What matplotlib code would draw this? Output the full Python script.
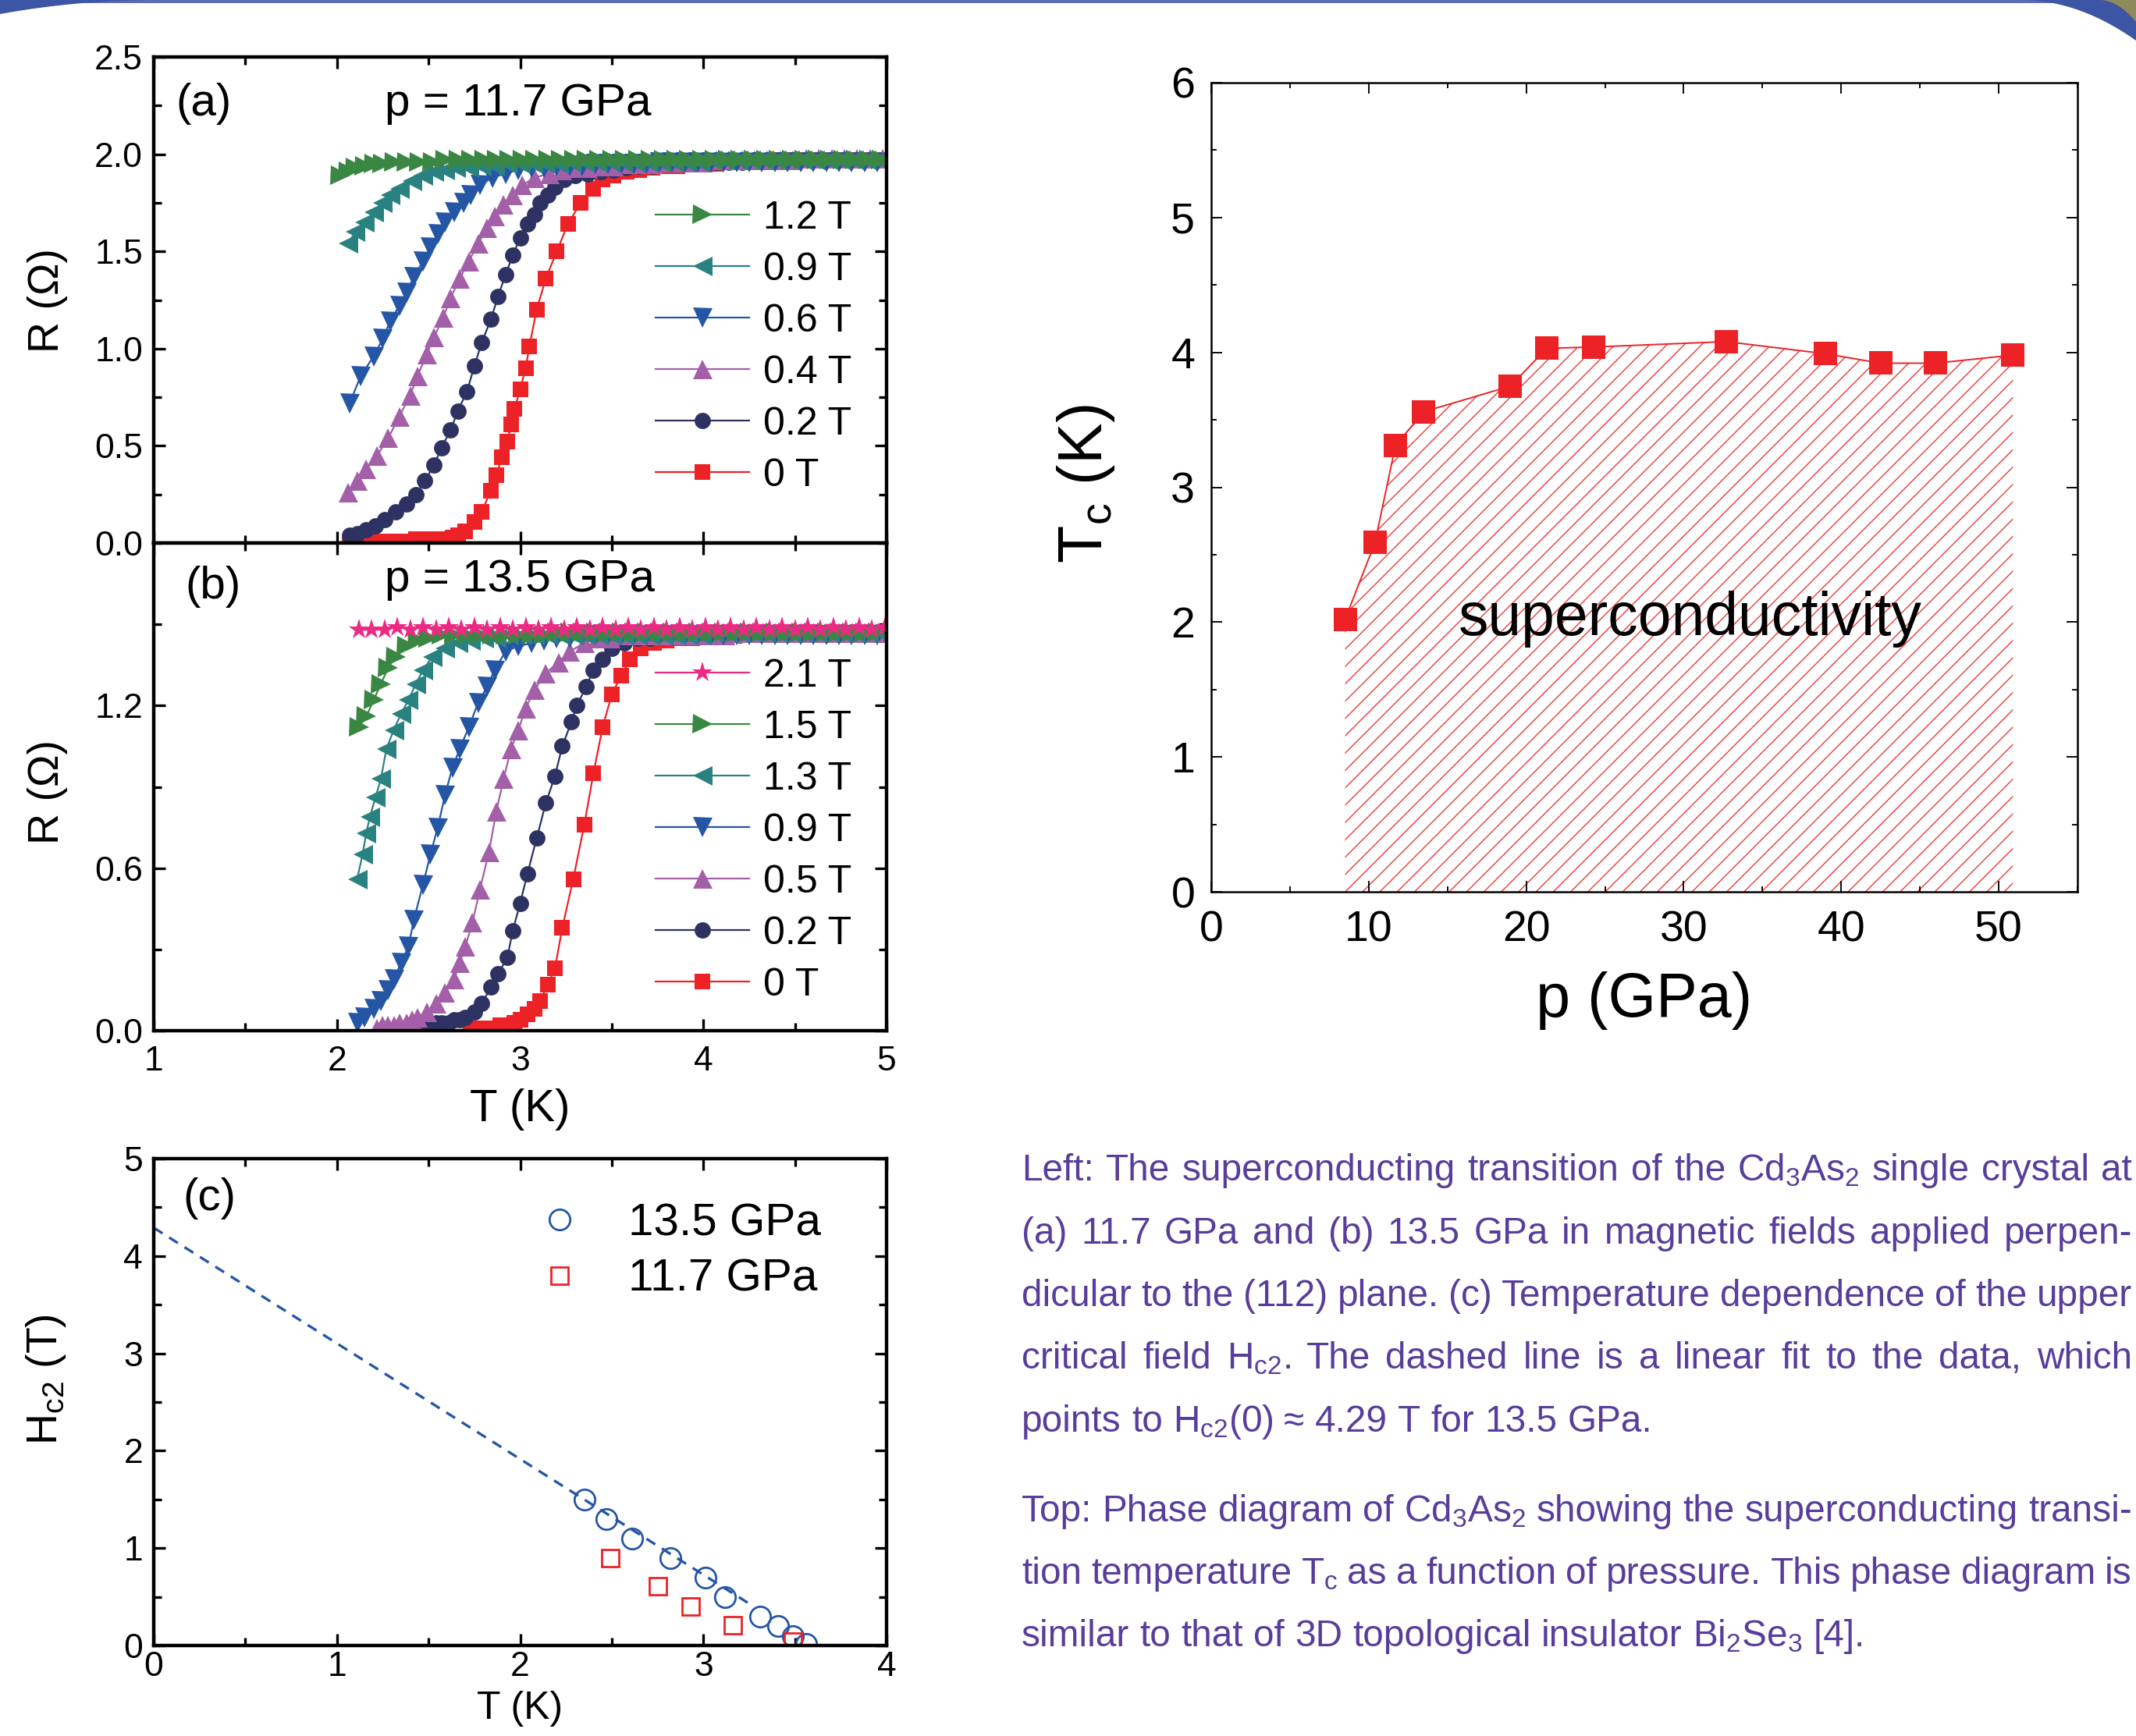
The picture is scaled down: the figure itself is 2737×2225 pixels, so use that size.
import numpy as np
import matplotlib
matplotlib.use('Agg')
import matplotlib.pyplot as plt
from matplotlib.ticker import MultipleLocator, FormatStrFormatter

plt.rcParams['font.family'] = ['Liberation Sans', 'DejaVu Sans']
plt.rcParams['mathtext.fontset'] = 'custom'
plt.rcParams['mathtext.rm'] = 'Liberation Sans'
plt.rcParams['hatch.linewidth'] = 0.5
plt.rcParams['hatch.color'] = '#ee3a3a'

# ---- panel (a): p = 11.7 GPa, (T [K], R [Ohm])
a_0T = [(2.07,0.00),(2.11,0.00),(2.15,0.01),(2.19,0.01),(2.23,0.01),(2.27,0.01),(2.31,0.01),(2.35,0.01),(2.39,0.01),(2.43,0.02),(2.47,0.02),(2.51,0.02),(2.55,0.02),(2.59,0.02),(2.63,0.03),(2.66,0.04),(2.70,0.06),(2.75,0.11),(2.79,0.16),(2.84,0.27),(2.87,0.35),(2.90,0.44),(2.93,0.52),(2.95,0.61),(2.97,0.69),(3.00,0.79),(3.03,0.90),(3.05,1.01),(3.09,1.20),(3.14,1.36),(3.20,1.50),(3.26,1.64),(3.33,1.75),(3.40,1.82),(3.45,1.87),(3.51,1.89),(3.58,1.91),(3.65,1.92),(3.72,1.93),(3.79,1.94),(3.86,1.94),(3.93,1.95),(4.00,1.95),(4.07,1.95),(4.14,1.96),(4.21,1.96),(4.28,1.96),(4.35,1.96),(4.42,1.97),(4.49,1.97),(4.56,1.97),(4.63,1.97),(4.70,1.97),(4.77,1.97),(4.84,1.97),(4.91,1.97),(4.98,1.97)]
a_02T = [(2.07,0.04),(2.11,0.05),(2.16,0.07),(2.21,0.09),(2.26,0.12),(2.32,0.16),(2.38,0.20),(2.43,0.25),(2.48,0.32),(2.53,0.40),(2.57,0.49),(2.62,0.58),(2.66,0.68),(2.71,0.78),(2.75,0.91),(2.79,1.03),(2.84,1.15),(2.88,1.27),(2.92,1.38),(2.96,1.48),(3.00,1.57),(3.04,1.64),(3.08,1.69),(3.11,1.75),(3.15,1.79),(3.19,1.83),(3.24,1.87),(3.30,1.89),(3.37,1.90),(3.44,1.91),(3.51,1.92),(3.58,1.93),(3.65,1.94),(3.72,1.94),(3.79,1.95),(3.86,1.95),(3.93,1.95),(4.00,1.96),(4.07,1.96),(4.14,1.96),(4.21,1.96),(4.28,1.97),(4.35,1.97),(4.42,1.97),(4.49,1.97),(4.56,1.97),(4.63,1.97),(4.70,1.97),(4.77,1.97),(4.84,1.97),(4.91,1.97),(4.98,1.97)]
a_04T = [(2.06,0.26),(2.11,0.32),(2.16,0.38),(2.22,0.45),(2.28,0.54),(2.34,0.65),(2.40,0.76),(2.44,0.86),(2.49,0.97),(2.53,1.06),(2.58,1.16),(2.62,1.26),(2.67,1.36),(2.72,1.45),(2.77,1.54),(2.82,1.62),(2.86,1.68),(2.91,1.74),(2.96,1.79),(3.01,1.84),(3.08,1.88),(3.16,1.90),(3.23,1.92),(3.30,1.93),(3.37,1.93),(3.44,1.94),(3.51,1.94),(3.58,1.95),(3.65,1.95),(3.72,1.95),(3.79,1.96),(3.86,1.96),(3.93,1.96),(4.00,1.96),(4.07,1.97),(4.14,1.97),(4.21,1.97),(4.28,1.97),(4.35,1.97),(4.42,1.97),(4.49,1.97),(4.56,1.98),(4.63,1.98),(4.70,1.98),(4.77,1.98),(4.84,1.98),(4.91,1.98),(4.98,1.98)]
a_06T = [(2.07,0.72),(2.13,0.86),(2.20,0.96),(2.25,1.05),(2.29,1.14),(2.34,1.22),(2.38,1.29),(2.42,1.37),(2.47,1.45),(2.51,1.52),(2.55,1.59),(2.59,1.65),(2.64,1.70),(2.69,1.75),(2.73,1.79),(2.78,1.84),(2.85,1.88),(2.92,1.90),(2.99,1.92),(3.06,1.93),(3.13,1.93),(3.20,1.94),(3.27,1.94),(3.34,1.94),(3.41,1.95),(3.48,1.95),(3.55,1.95),(3.62,1.95),(3.69,1.95),(3.76,1.96),(3.83,1.96),(3.90,1.96),(3.97,1.96),(4.04,1.96),(4.11,1.96),(4.18,1.96),(4.25,1.96),(4.32,1.96),(4.39,1.96),(4.46,1.96),(4.53,1.96),(4.60,1.96),(4.67,1.96),(4.74,1.96),(4.81,1.96),(4.88,1.96),(4.95,1.96)]
a_09T = [(2.06,1.54),(2.10,1.60),(2.15,1.65),(2.20,1.70),(2.25,1.75),(2.29,1.79),(2.34,1.82),(2.41,1.86),(2.47,1.89),(2.53,1.91),(2.59,1.92),(2.65,1.93),(2.72,1.93),(2.79,1.94),(2.86,1.94),(2.93,1.95),(3.00,1.95),(3.07,1.95),(3.14,1.95),(3.21,1.95),(3.28,1.96),(3.35,1.96),(3.42,1.96),(3.49,1.96),(3.56,1.96),(3.63,1.96),(3.70,1.96),(3.77,1.96),(3.84,1.96),(3.91,1.96),(3.98,1.96),(4.05,1.97),(4.12,1.97),(4.19,1.97),(4.26,1.97),(4.33,1.97),(4.40,1.97),(4.47,1.97),(4.54,1.97),(4.61,1.97),(4.68,1.97),(4.75,1.97),(4.82,1.97),(4.89,1.97),(4.96,1.97)]
a_12T = [(2.02,1.89),(2.06,1.91),(2.10,1.93),(2.15,1.94),(2.20,1.95),(2.25,1.95),(2.31,1.96),(2.38,1.96),(2.45,1.96),(2.52,1.96),(2.59,1.97),(2.66,1.97),(2.73,1.97),(2.80,1.97),(2.87,1.97),(2.94,1.97),(3.01,1.97),(3.08,1.97),(3.15,1.97),(3.22,1.97),(3.29,1.97),(3.36,1.97),(3.43,1.97),(3.50,1.97),(3.57,1.97),(3.64,1.97),(3.71,1.97),(3.78,1.97),(3.85,1.97),(3.92,1.97),(3.99,1.97),(4.06,1.97),(4.13,1.97),(4.20,1.97),(4.27,1.97),(4.34,1.97),(4.41,1.97),(4.48,1.97),(4.55,1.97),(4.62,1.97),(4.69,1.97),(4.76,1.97),(4.83,1.97),(4.90,1.97),(4.97,1.97)]

# ---- panel (b): p = 13.5 GPa
b_0T = [(2.73,0.01),(2.77,0.01),(2.81,0.01),(2.85,0.01),(2.89,0.02),(2.93,0.02),(2.97,0.03),(3.00,0.04),(3.04,0.06),(3.08,0.08),(3.11,0.11),(3.15,0.17),(3.19,0.23),(3.23,0.38),(3.29,0.56),(3.35,0.76),(3.40,0.95),(3.45,1.12),(3.50,1.24),(3.55,1.31),(3.60,1.37),(3.66,1.41),(3.73,1.43),(3.80,1.44),(3.87,1.45),(3.94,1.45),(4.01,1.46),(4.08,1.46),(4.15,1.46),(4.22,1.46),(4.29,1.46),(4.36,1.46),(4.43,1.47),(4.50,1.47),(4.57,1.47),(4.64,1.47),(4.71,1.47),(4.78,1.47),(4.85,1.47),(4.92,1.47),(4.99,1.47)]
b_02T = [(2.44,0.02),(2.48,0.02),(2.51,0.02),(2.54,0.03),(2.57,0.03),(2.61,0.03),(2.64,0.04),(2.67,0.04),(2.70,0.05),(2.75,0.07),(2.79,0.10),(2.84,0.16),(2.88,0.21),(2.93,0.27),(2.96,0.37),(3.00,0.47),(3.04,0.58),(3.09,0.71),(3.14,0.84),(3.19,0.94),(3.23,1.05),(3.28,1.14),(3.31,1.20),(3.36,1.27),(3.40,1.33),(3.45,1.37),(3.50,1.41),(3.57,1.43),(3.64,1.45),(3.71,1.45),(3.78,1.46),(3.85,1.46),(3.92,1.46),(3.99,1.46),(4.06,1.46),(4.13,1.46),(4.20,1.46),(4.27,1.47),(4.34,1.47),(4.41,1.47),(4.48,1.47),(4.55,1.47),(4.62,1.47),(4.69,1.47),(4.76,1.47),(4.83,1.47),(4.90,1.47),(4.97,1.47)]
b_05T = [(2.22,0.01),(2.25,0.02),(2.28,0.02),(2.31,0.02),(2.34,0.03),(2.38,0.03),(2.41,0.04),(2.44,0.05),(2.49,0.07),(2.54,0.10),(2.59,0.14),(2.64,0.19),(2.67,0.25),(2.70,0.31),(2.74,0.40),(2.78,0.52),(2.83,0.66),(2.87,0.81),(2.91,0.93),(2.95,1.04),(2.99,1.11),(3.03,1.19),(3.08,1.26),(3.14,1.32),(3.21,1.36),(3.27,1.40),(3.35,1.43),(3.42,1.45),(3.49,1.45),(3.56,1.46),(3.63,1.46),(3.70,1.46),(3.77,1.46),(3.84,1.46),(3.91,1.46),(3.98,1.46),(4.05,1.46),(4.12,1.46),(4.19,1.47),(4.26,1.47),(4.33,1.47),(4.40,1.47),(4.47,1.47),(4.54,1.47),(4.61,1.47),(4.68,1.47),(4.75,1.47),(4.82,1.47),(4.89,1.47),(4.96,1.47)]
b_09T = [(2.11,0.03),(2.15,0.05),(2.20,0.08),(2.24,0.11),(2.28,0.15),(2.31,0.19),(2.35,0.25),(2.39,0.31),(2.42,0.41),(2.47,0.54),(2.51,0.65),(2.55,0.75),(2.59,0.87),(2.63,0.97),(2.67,1.04),(2.72,1.12),(2.77,1.21),(2.82,1.27),(2.86,1.33),(2.92,1.40),(2.99,1.42),(3.06,1.43),(3.13,1.44),(3.20,1.45),(3.27,1.45),(3.34,1.46),(3.41,1.46),(3.48,1.46),(3.55,1.46),(3.62,1.46),(3.69,1.46),(3.76,1.46),(3.83,1.46),(3.90,1.46),(3.97,1.46),(4.04,1.46),(4.11,1.46),(4.18,1.46),(4.25,1.46),(4.32,1.46),(4.39,1.46),(4.46,1.46),(4.53,1.46),(4.60,1.46),(4.67,1.46),(4.74,1.46),(4.81,1.46),(4.88,1.46),(4.95,1.46)]
b_13T = [(2.11,0.56),(2.14,0.65),(2.16,0.73),(2.18,0.79),(2.21,0.86),(2.24,0.93),(2.27,1.04),(2.31,1.11),(2.35,1.17),(2.39,1.22),(2.43,1.28),(2.47,1.33),(2.52,1.38),(2.59,1.41),(2.66,1.43),(2.73,1.44),(2.80,1.45),(2.87,1.45),(2.94,1.46),(3.01,1.46),(3.08,1.46),(3.15,1.46),(3.22,1.46),(3.29,1.46),(3.36,1.46),(3.43,1.46),(3.50,1.46),(3.57,1.46),(3.64,1.46),(3.71,1.46),(3.78,1.46),(3.85,1.46),(3.92,1.46),(3.99,1.46),(4.06,1.47),(4.13,1.47),(4.20,1.47),(4.27,1.47),(4.34,1.47),(4.41,1.47),(4.48,1.47),(4.55,1.47),(4.62,1.47),(4.69,1.47),(4.76,1.47),(4.83,1.47),(4.90,1.47),(4.97,1.47)]
b_15T = [(2.12,1.12),(2.16,1.16),(2.20,1.22),(2.24,1.28),(2.28,1.34),(2.32,1.38),(2.38,1.42),(2.44,1.44),(2.50,1.45),(2.57,1.46),(2.64,1.46),(2.71,1.46),(2.78,1.46),(2.85,1.46),(2.92,1.46),(2.99,1.46),(3.06,1.46),(3.13,1.46),(3.20,1.47),(3.27,1.47),(3.34,1.47),(3.41,1.47),(3.48,1.47),(3.55,1.47),(3.62,1.47),(3.69,1.47),(3.76,1.47),(3.83,1.47),(3.90,1.47),(3.97,1.47),(4.04,1.47),(4.11,1.47),(4.18,1.47),(4.25,1.47),(4.32,1.47),(4.39,1.47),(4.46,1.47),(4.53,1.47),(4.60,1.47),(4.67,1.47),(4.74,1.47),(4.81,1.47),(4.88,1.47),(4.95,1.47)]
b_21T = [(2.12,1.48),(2.19,1.48),(2.26,1.48),(2.33,1.49),(2.40,1.48),(2.47,1.49),(2.54,1.48),(2.61,1.49),(2.68,1.48),(2.75,1.49),(2.82,1.48),(2.89,1.49),(2.96,1.48),(3.03,1.49),(3.10,1.48),(3.17,1.49),(3.24,1.48),(3.31,1.49),(3.38,1.48),(3.45,1.49),(3.52,1.48),(3.59,1.49),(3.66,1.48),(3.73,1.49),(3.80,1.48),(3.87,1.49),(3.94,1.48),(4.01,1.49),(4.08,1.48),(4.15,1.49),(4.22,1.48),(4.29,1.49),(4.36,1.48),(4.43,1.49),(4.50,1.48),(4.57,1.49),(4.64,1.48),(4.71,1.49),(4.78,1.48),(4.85,1.49),(4.92,1.48),(4.99,1.49)]

# ---- panel (c): upper critical field
c_135_T = [2.35, 2.47, 2.61, 2.82, 3.01, 3.12, 3.31, 3.41, 3.49, 3.56]
c_135_H = [1.50, 1.30, 1.10, 0.90, 0.70, 0.50, 0.30, 0.20, 0.10, 0.02]
c_117_T = [2.49, 2.75, 2.93, 3.16, 3.49]
c_117_H = [0.90, 0.61, 0.40, 0.21, 0.04]
fit_T = [0.0, 3.25]
fit_H = [4.29, 0.43]

# ---- phase diagram
p_GPa = [8.5, 10.4, 11.7, 13.5, 19.0, 21.3, 24.3, 32.7, 39.0, 42.5, 46.0, 50.9]
Tc_K = [2.02, 2.59, 3.31, 3.56, 3.75, 4.03, 4.04, 4.08, 3.99, 3.92, 3.92, 3.98]

RED = '#ec2227'
NAVY = '#2e3262'
VIOLET = '#a45fa9'
BLUE = '#2556a6'
TEAL = '#2a8280'
GREEN = '#3a8744'
PINK = '#ec2a84'
CAPTION = '#583e9c'

W, H = 2737, 2225
fig = plt.figure(figsize=(W / 200, H / 200), dpi=200)


def box(x0, y0, x1, y1):
    return [x0 / W, 1 - y1 / H, (x1 - x0) / W, (y1 - y0) / H]


# overlay in pixel units for frame decoration and caption
ov = fig.add_axes([0, 0, 1, 1])
ov.set_xlim(0, W)
ov.set_ylim(H, 0)
ov.axis('off')

ax_a = fig.add_axes(box(197, 73, 1136, 696))
ax_b = fig.add_axes(box(197, 696, 1136, 1321))
ax_c = fig.add_axes(box(197, 1485, 1136, 2109))
ax_p = fig.add_axes(box(1552, 106, 2662, 1143))


def style(ax, size, lw, major, minor, pad):
    ax.tick_params(which='both', direction='in', top=True, right=True,
                   labelsize=size, width=lw * 0.75, pad=pad)
    ax.tick_params(which='major', length=major)
    ax.tick_params(which='minor', length=minor)
    for s in ax.spines.values():
        s.set_linewidth(lw)


def curve(ax, pts, color, marker, ms, label):
    t, r = zip(*pts)
    ln, = ax.plot(t, r, color=color, marker=marker, ms=ms, mec=color,
                  mew=0, lw=0.8, label=label)
    return ln


# panel (a)
ha = []
ha.append(curve(ax_a, a_0T, RED, 's', 7, '0 T'))
ha.append(curve(ax_a, a_02T, NAVY, 'o', 7.5, '0.2 T'))
ha.append(curve(ax_a, a_04T, VIOLET, '^', 9, '0.4 T'))
ha.append(curve(ax_a, a_06T, BLUE, 'v', 9, '0.6 T'))
ha.append(curve(ax_a, a_09T, TEAL, '<', 9, '0.9 T'))
ha.append(curve(ax_a, a_12T, GREEN, '>', 9, '1.2 T'))
ax_a.set_xlim(1, 5)
ax_a.set_ylim(0, 2.5)
ax_a.xaxis.set_major_locator(MultipleLocator(1))
ax_a.xaxis.set_minor_locator(MultipleLocator(0.5))
ax_a.yaxis.set_major_locator(MultipleLocator(0.5))
ax_a.yaxis.set_minor_locator(MultipleLocator(0.25))
ax_a.yaxis.set_major_formatter(FormatStrFormatter('%.1f'))
ax_a.tick_params(labelbottom=False)
style(ax_a, 16, 1.6, 5.5, 3.5, 5)
ax_a.set_ylabel('R (Ω)', fontsize=20)
ax_a.yaxis.set_label_coords(-0.117, 0.5)
ax_a.text(1.12, 2.26, '(a)', fontsize=21, va='center')
ax_a.text(2.26, 2.26, 'p = 11.7 GPa', fontsize=21, va='center')
ax_a.legend(ha[::-1], [h.get_label() for h in ha[::-1]], loc='center left',
            bbox_to_anchor=(0.685, 0.403), frameon=False, fontsize=18,
            handlelength=2.4, handletextpad=0.35, labelspacing=0.4,
            borderpad=0, borderaxespad=0, numpoints=1)

# panel (b)
hb = []
hb.append(curve(ax_b, b_0T, RED, 's', 7, '0 T'))
hb.append(curve(ax_b, b_02T, NAVY, 'o', 7.5, '0.2 T'))
hb.append(curve(ax_b, b_05T, VIOLET, '^', 9, '0.5 T'))
hb.append(curve(ax_b, b_09T, BLUE, 'v', 9, '0.9 T'))
hb.append(curve(ax_b, b_13T, TEAL, '<', 9, '1.3 T'))
hb.append(curve(ax_b, b_15T, GREEN, '>', 9, '1.5 T'))
hb.append(curve(ax_b, b_21T, PINK, '*', 10, '2.1 T'))
ax_b.set_xlim(1, 5)
ax_b.set_ylim(0, 1.8)
ax_b.xaxis.set_major_locator(MultipleLocator(1))
ax_b.xaxis.set_minor_locator(MultipleLocator(0.5))
ax_b.set_yticks([0, 0.6, 1.2])
ax_b.yaxis.set_minor_locator(MultipleLocator(0.3))
ax_b.yaxis.set_major_formatter(FormatStrFormatter('%.1f'))
style(ax_b, 16, 1.6, 5.5, 3.5, 5)
ax_b.tick_params(axis='x', pad=7)
ax_b.set_ylabel('R (Ω)', fontsize=20)
ax_b.yaxis.set_label_coords(-0.117, 0.49)
ax_b.set_xlabel('T (K)', fontsize=21, va='top')
ax_b.xaxis.set_label_coords(0.5, -0.118)
ax_b.text(1.17, 1.64, '(b)', fontsize=21, va='center')
ax_b.text(2.26, 1.665, 'p = 13.5 GPa', fontsize=21, va='center')
ax_b.legend(hb[::-1], [h.get_label() for h in hb[::-1]], loc='center left',
            bbox_to_anchor=(0.685, 0.41), frameon=False, fontsize=18,
            handlelength=2.4, handletextpad=0.35, labelspacing=0.4,
            borderpad=0, borderaxespad=0, numpoints=1)

# panel (c)
ax_c.plot(fit_T, fit_H, color=BLUE, lw=1.2, dashes=(4, 3))
ax_c.plot(c_135_T, c_135_H, ls='none', marker='o', ms=9.5, mfc='none',
          mec=BLUE, mew=1.0, label='13.5 GPa')
ax_c.plot(c_117_T, c_117_H, ls='none', marker='s', ms=8, mfc='none',
          mec=RED, mew=1.0, label='11.7 GPa')
ax_c.set_xlim(0, 4)
ax_c.set_ylim(0, 5)
ax_c.xaxis.set_major_locator(MultipleLocator(1))
ax_c.xaxis.set_minor_locator(MultipleLocator(0.5))
ax_c.yaxis.set_major_locator(MultipleLocator(1))
ax_c.yaxis.set_minor_locator(MultipleLocator(0.5))
style(ax_c, 16, 1.6, 5.5, 3.5, 5)
ax_c.tick_params(axis='x', pad=2.5)
ax_c.set_ylabel(r'H$_{\mathregular{c2}}$ (T)', fontsize=20)
ax_c.yaxis.set_label_coords(-0.117, 0.546)
ax_c.set_xlabel('T (K)', fontsize=18, va='top')
ax_c.xaxis.set_label_coords(0.5, -0.093)
ax_c.text(0.16, 4.59, '(c)', fontsize=21, va='center')
ax_c.legend(loc='center left', bbox_to_anchor=(0.523, 0.809), frameon=False,
            fontsize=21, handlelength=1.0, handletextpad=1.0,
            labelspacing=0.3, borderpad=0, borderaxespad=0, numpoints=1)

# phase diagram
ax_p.fill_between(p_GPa, Tc_K, 0, facecolor='none', edgecolor='#ee3a3a',
                  hatch='///', linewidth=0)
ax_p.plot(p_GPa, Tc_K, color=RED, lw=0.7, marker='s', ms=10.5, mew=0)
ax_p.set_xlim(0, 55)
ax_p.set_ylim(0, 6)
ax_p.xaxis.set_major_locator(MultipleLocator(10))
ax_p.xaxis.set_minor_locator(MultipleLocator(5))
ax_p.yaxis.set_major_locator(MultipleLocator(1))
ax_p.yaxis.set_minor_locator(MultipleLocator(0.5))
style(ax_p, 20, 0.9, 5, 2.5, 7.5)
ax_p.tick_params(axis='x', pad=8.5)
ax_p.set_xlabel('p (GPa)', fontsize=28.5, va='top')
ax_p.xaxis.set_label_coords(0.5, -0.098)
ax_p.set_ylabel(r'T$_{\mathregular{c}}$ (K)', fontsize=28.5)
ax_p.yaxis.set_label_coords(-0.109, 0.504)
ax_p.text(30.4, 2.02, 'superconductivity', fontsize=27.7, ha='center', va='center')

# frame decoration (top border and corners)
ov.fill([0, W, W, 0], [0, 0, 4, 4], color='#5b6db4', lw=0)
xs = np.linspace(0, 200, 40)
ov.fill(np.r_[0, xs], np.r_[0, 18 * (1 - xs / 200) ** 2], color='#3d55a5', lw=0)
xs = np.linspace(2590, W, 40)
ov.fill(np.r_[W, xs], np.r_[0, 52 * ((xs - 2590) / (W - 2590)) ** 2], color='#3d55a5', lw=0)
xs = np.linspace(2690, W, 30)
ov.fill(np.r_[W, xs], np.r_[0, 28 * ((xs - 2690) / (W - 2690)) ** 2], color='#8f8a5a', lw=0)

# caption, justified by hand
cap_lines = [
    (r'Left: The superconducting transition of the Cd$_{\mathregular{3}}$As$_{\mathregular{2}}$ single crystal at', True),
    ('(a) 11.7 GPa and (b) 13.5 GPa in magnetic fields applied perpen-', True),
    ('dicular to the (112) plane. (c) Temperature dependence of the upper', True),
    (r'critical field H$_{\mathregular{c2}}$. The dashed line is a linear fit to the data, which', True),
    (r'points to H$_{\mathregular{c2}}$(0) ≈ 4.29 T for 13.5 GPa.', False),
    (r'Top: Phase diagram of Cd$_{\mathregular{3}}$As$_{\mathregular{2}}$ showing the superconducting transi-', True),
    (r'tion temperature T$_{\mathregular{c}}$ as a function of pressure. This phase diagram is', True),
    (r'similar to that of 3D topological insulator Bi$_{\mathregular{2}}$Se$_{\mathregular{3}}$ [4].', False),
]
cap_base = [1513, 1594, 1674, 1754, 1835, 1950, 2030, 2110]
x_left, x_right = 1309, 2732
rend = fig.canvas.get_renderer()
kw = dict(fontsize=17.2, color=CAPTION, va='baseline', ha='left')
t1 = ov.text(0, 0, 'n n', **kw)
t2 = ov.text(0, 0, 'nn', **kw)
space = t1.get_window_extent(rend).width - t2.get_window_extent(rend).width
t1.remove()
t2.remove()
for (line, just), yb in zip(cap_lines, cap_base):
    words = line.split(' ')
    texts = [ov.text(0, yb, w, **kw) for w in words]
    widths = [t.get_window_extent(rend).width for t in texts]
    gap = (x_right - x_left - sum(widths)) / (len(words) - 1) if just else space
    x = x_left
    for t, w in zip(texts, widths):
        t.set_x(x)
        x += w + gap

fig.savefig('out.png', dpi=200)
